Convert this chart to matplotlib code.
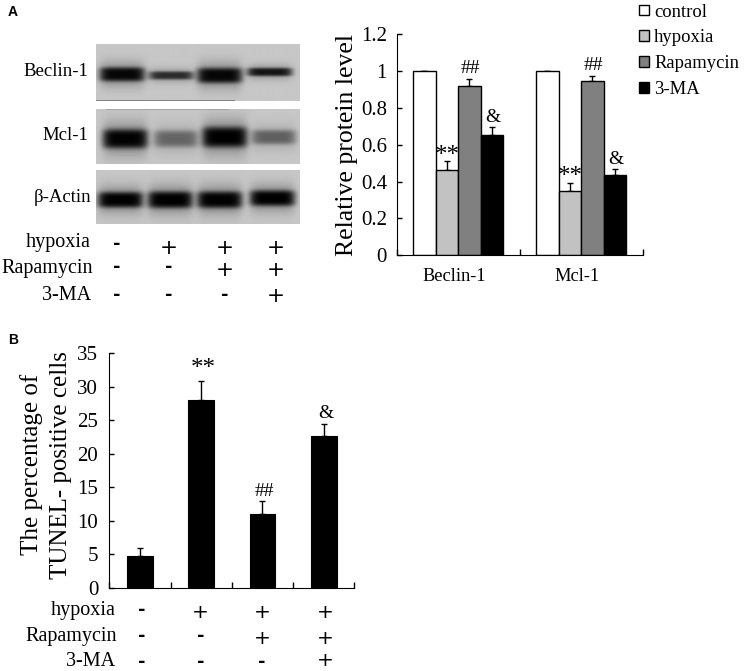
import numpy as np
import matplotlib
matplotlib.use("Agg")
import matplotlib.pyplot as plt
from matplotlib.patches import Patch

W, H = 744, 671
plt.rcParams['font.family'] = ['Liberation Serif', 'DejaVu Serif']

groups = ["Beclin-1", "Mcl-1"]
series = ["control", "hypoxia", "Rapamycin", "3-MA"]
colors = ["#ffffff", "#c2c2c2", "#808080", "#000000"]
protein = [[1.0, 1.0], [0.46, 0.35], [0.92, 0.945], [0.65, 0.435]]
protein_err = [[0, 0], [0.05, 0.044], [0.035, 0.025], [0.044, 0.035]]
protein_marks = [[None, None], ["**", "**"], ["##", "##"], ["&", "&"]]

tunel = [4.8, 28.0, 11.0, 22.7]
tunel_err = [1.2, 2.8, 2.0, 1.7]
tunel_marks = [None, "**", "##", "&"]

treat_names = ["hypoxia", "Rapamycin", "3-MA"]
treat_rows = [["-", "+", "+", "+"], ["-", "-", "+", "+"], ["-", "-", "-", "+"]]

blot_names = ["Beclin-1", "Mcl-1", "β-Actin"]
# band darkness per lane, read from the blot
blot_dark = [[0.95, 0.70, 0.95, 0.85], [0.98, 0.40, 1.0, 0.42], [1.0, 1.0, 1.0, 1.0]]
blot_center_y = [[0.54, 0.56, 0.56, 0.50], [0.55, 0.55, 0.52, 0.52], [0.56, 0.56, 0.56, 0.53]]
blot_half_h = [[0.12, 0.07, 0.13, 0.07], [0.17, 0.15, 0.18, 0.13], [0.14, 0.15, 0.15, 0.14]]
blot_lane_x = [[366, 513, 658, 808], [375, 527, 673, 820], [361, 510, 658, 816]]
blot_lane_hw = 66

fig = plt.figure(figsize=(W / 100, H / 100), dpi=100, facecolor="white")


def px_axes(x0, y0, x1, y1, **kw):
    return fig.add_axes([x0 / W, 1 - y1 / H, (x1 - x0) / W, (y1 - y0) / H], **kw)


def ftext(x, y, s, **kw):
    fig.text(x / W, 1 - y / H, s, **kw)


# ---- blots
panels = [(96, 43.5, 299.5, 101.5), (96, 108.5, 299.5, 164), (96, 169.5, 299.5, 224.5)]
label_y = [72, 136, 198]
label_x = [88, 88, 91]
for i, (x0, y0, x1, y1) in enumerate(panels):
    ax = px_axes(x0, y0, x1, y1)
    nx, ny = int((x1 - x0) * 2), int((y1 - y0) * 2)
    xs = np.linspace(288, 898, nx)
    ys = np.linspace(0, 1, ny)
    X, Y = np.meshgrid(xs, ys)
    img = np.full_like(X, 0.78, dtype=float)
    for d, cy, hh, cx in zip(blot_dark[i], blot_center_y[i], blot_half_h[i], blot_lane_x[i]):
        core = np.exp(-((X - cx) / blot_lane_hw) ** 6 - ((Y - cy) / hh) ** 4)
        halo = np.exp(-((X - cx) / (blot_lane_hw * 1.03)) ** 6 - ((Y - cy) / (hh * 1.7)) ** 2)
        img = img * (1 - np.clip(d * core, 0, 1)) * (1 - 0.4 * d * halo)
    ax.imshow(img, cmap="gray", vmin=0, vmax=1, aspect="auto", interpolation="bilinear",
              extent=(0, 1, 1, 0))
    if i == 0:
        ax.plot([0, 0.68], [0.98, 0.98], color="#777777", lw=0.6)
    if i == 1:
        ax.plot([0.05, 0.65], [0.015, 0.015], color="#999999", lw=0.5)
    ax.set_xlim(0, 1)
    ax.set_ylim(1, 0)
    ax.axis("off")
    ftext(label_x[i], label_y[i], blot_names[i], ha="right", va="center", fontsize=13.5)


# ---- treatment tables
def treatment(col_x, name_y, plus_y, minus_y, name_x, fs, plus_fs):
    for y, yp, ym, nx, name, row in zip(name_y, plus_y, minus_y, name_x, treat_names, treat_rows):
        ftext(nx, y, name, ha="right", va="center", fontsize=fs)
        for x, s in zip(col_x, row):
            if s == "+":
                ftext(x, yp + 2, s, ha="center", va="center", fontsize=plus_fs, family="DejaVu Sans")
            else:
                ftext(x, ym, s, ha="center", va="center", fontsize=13,
                      family="DejaVu Sans", fontweight="bold")


treatment([117, 169, 224.5, 275.5], [243, 269, 295], [245.5, 268, 294], [244, 267.5, 295],
          [91, 93, 91], 14.5, 15.5)
treatment([142, 200.5, 262, 325.5], [610.5, 636.5, 662], [611, 636, 659], [610, 636, 662],
          [115.5, 117, 115.5], 14.5, 14.5)

# ---- panel A chart
ax = px_axes(396.7, 34, 642.7, 255.3)
bw = 0.183
x = np.arange(len(groups))
for j, name in enumerate(series):
    offs = x + (j - 1.5) * bw
    ax.bar(offs, protein[j], bw, color=colors[j], edgecolor="black", linewidth=1.0, zorder=2)
    errs = protein_err[j]
    ax.errorbar(offs, protein[j], yerr=[np.zeros(2), errs], fmt="none", ecolor="black",
                elinewidth=1.0, capsize=2.5, capthick=1.0, zorder=1)
    for o, v, e, m in zip(offs, protein[j], errs, protein_marks[j]):
        if m == "**":
            ax.text(o + 0.005, v + e - 0.03, m, ha="center", va="bottom", fontsize=18)
        elif m == "##":
            ax.text(o + 0.005, v + e + 0.012, m, ha="center", va="bottom", fontsize=14)
        elif m:
            ax.text(o + 0.005, v + e + 0.005, m, ha="center", va="bottom", fontsize=14)
ax.set_xlim(-0.5, 1.5)
ax.set_ylim(0, 1.2)
ax.set_xticks([-0.5, 0.5, 1.5])
ax.set_xticklabels([])
for xv, g in zip(x, groups):
    ax.annotate(g, (xv, 0), xytext=(-3.2, -15), xycoords=("data", "axes fraction"),
                textcoords="offset points", ha="center", va="center", fontsize=13.2)
ax.set_yticks([0, 0.2, 0.4, 0.6, 0.8, 1, 1.2])
ax.set_yticklabels(["0", "0.2", "0.4", "0.6", "0.8", "1", "1.2"], fontsize=15)
ax.tick_params(axis="y", direction="in", length=3.5, width=1, pad=7)
ax.tick_params(axis="x", direction="in", length=4, width=1)
ax.set_ylabel("Relative protein level", fontsize=18.5, labelpad=2)
for s in ("top", "right"):
    ax.spines[s].set_visible(False)

handles = [Patch(facecolor=c, edgecolor="black", linewidth=1.0) for c in colors]
fig.legend(handles, series, loc="upper left", bbox_to_anchor=(633.5 / W, 1 + 2 / H), frameon=False,
           fontsize=13.4, handlelength=0.53, handleheight=0.53, handletextpad=0.28,
           labelspacing=0.47, borderpad=0.3, borderaxespad=0)

# ---- panel B chart
ax = px_axes(109.3, 353.3, 354.3, 587.7)
xb = np.arange(len(tunel))
ax.bar(xb, tunel, 0.42, color="black", edgecolor="black", linewidth=0.8, zorder=2)
ax.errorbar(xb, tunel, yerr=[np.zeros(4), tunel_err], fmt="none", ecolor="black",
            elinewidth=1.0, capsize=2.5, capthick=1.0, zorder=1)
for o, v, e, m in zip(xb, tunel, tunel_err, tunel_marks):
    if m == "**":
        ax.text(o + 0.03, v + e + 0.2, m, ha="center", va="bottom", fontsize=18)
    elif m == "##":
        ax.text(o + 0.03, v + e + 0.1, m, ha="center", va="bottom", fontsize=14)
    elif m:
        ax.text(o + 0.03, v + e + 0.4, m, ha="center", va="bottom", fontsize=14)
ax.set_xlim(-0.5, 3.5)
ax.set_ylim(0, 35)
ax.set_xticks([-0.5, 0.5, 1.5, 2.5, 3.5])
ax.set_xticklabels([])
ax.set_yticks(range(0, 36, 5))
ax.tick_params(axis="y", direction="in", length=3.5, width=1, pad=8, labelsize=15)
ax.tick_params(axis="x", direction="in", length=4, width=1)
for s in ("top", "right"):
    ax.spines[s].set_visible(False)
ftext(32, 464, "The percentage of", rotation=90, ha="center", va="center", fontsize=18)
ftext(61, 465, "TUNEL- positive cells", rotation=90, ha="center", va="center", fontsize=18)

# ---- panel letters
ftext(8, 12, "A", fontsize=10, fontweight="bold", family="Liberation Sans", ha="left", va="center")
ftext(8, 340, "B", fontsize=10, fontweight="bold", family="Liberation Sans", ha="left", va="center")

fig.savefig("out.png", dpi=100, facecolor="white")
